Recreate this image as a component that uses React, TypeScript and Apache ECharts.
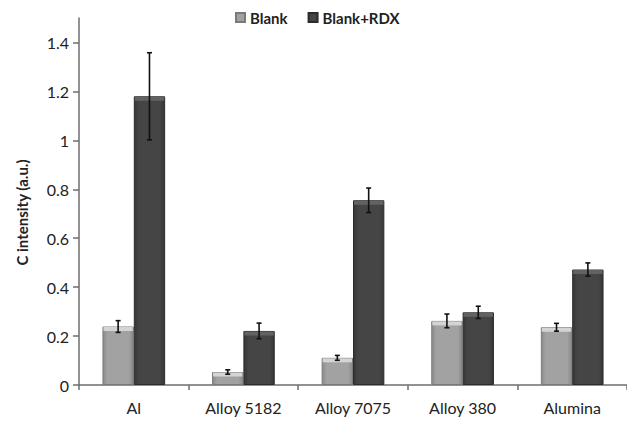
import React, { useEffect, useRef } from 'react';
import * as echarts from 'echarts';

const categories = ['Al', 'Alloy 5182', 'Alloy 7075', 'Alloy 380', 'Alumina'];
const blankValues = [0.239, 0.053, 0.111, 0.262, 0.236];
const blankErrors = [0.024, 0.009, 0.01, 0.028, 0.016];
const rdxValues = [1.18, 0.221, 0.755, 0.297, 0.472];
const rdxErrors = [0.178, 0.032, 0.05, 0.025, 0.027];
const yTicks = [0, 0.2, 0.4, 0.6, 0.8, 1, 1.2, 1.4];

const GAP = 0.428;
const FONT = 'Lato, "Open Sans", sans-serif';

const blankFill = new echarts.graphic.LinearGradient(0, 0, 1, 0, [
  { offset: 0, color: '#8a8a8a' },
  { offset: 0.15, color: '#a2a2a2' },
  { offset: 0.85, color: '#a2a2a2' },
  { offset: 1, color: '#8a8a8a' },
]);
const rdxFill = new echarts.graphic.LinearGradient(0, 0, 1, 0, [
  { offset: 0, color: '#363636' },
  { offset: 0.15, color: '#454545' },
  { offset: 0.85, color: '#454545' },
  { offset: 1, color: '#363636' },
]);

export default function App() {
  const ref = useRef<HTMLDivElement>(null);
  useEffect(() => {
    if (!ref.current) return;
    const chart = echarts.init(ref.current, null, { renderer: 'svg' });
    const errData: number[][] = [];
    categories.forEach((_, i) => {
      errData.push([i, blankValues[i], blankErrors[i], 0]);
      errData.push([i, rdxValues[i], rdxErrors[i], 1]);
    });
    chart.setOption({
      animation: false,
      backgroundColor: '#ffffff',
      legend: {
        data: ['Blank', 'Blank+RDX'],
        left: 230,
        top: 5,
        icon: 'rect',
        itemWidth: 9,
        itemHeight: 9,
        itemGap: 20,
        textStyle: { fontFamily: FONT, fontSize: 15, fontWeight: 'bold', color: '#222' },
      },
      grid: { left: 79, right: -6, top: 18, bottom: 37, containLabel: false },
      xAxis: {
        type: 'category',
        data: categories,
        axisLine: { show: true, lineStyle: { color: '#6e6e6e', width: 1.5 } },
        axisTick: { show: true, length: 5, lineStyle: { color: '#6e6e6e', width: 1.5 } },
        axisLabel: { fontFamily: FONT, fontSize: 16, color: '#222', margin: 14 },
        splitLine: { show: false },
      },
      yAxis: {
        type: 'value',
        min: 0,
        max: 1.5,
        name: 'C intensity (a.u.)',
        nameLocation: 'middle',
        nameGap: 50,
        nameRotate: 90,
        nameTextStyle: { fontFamily: FONT, fontSize: 15, fontWeight: 'bold', color: '#222', padding: [0, 0, 0, -22] },
        axisLine: { show: true, lineStyle: { color: '#6e6e6e', width: 1.5 } },
        axisTick: { show: true, length: 6, customValues: yTicks, lineStyle: { color: '#6e6e6e', width: 1.5 } },
        axisLabel: {
          fontFamily: FONT,
          fontSize: 16,
          color: '#222',
          margin: 10,
          customValues: yTicks,
          formatter: (v: number) => String(Math.round(v * 10) / 10),
        },
        splitLine: { show: false },
      },
      series: [
        {
          name: 'Blank',
          type: 'bar',
          data: blankValues,
          barCategoryGap: GAP * 100 + '%',
          barGap: '0%',
          itemStyle: { color: blankFill, borderColor: '#7a7a7a', borderWidth: 1 },
        },
        {
          name: 'Blank+RDX',
          type: 'bar',
          data: rdxValues,
          barCategoryGap: GAP * 100 + '%',
          barGap: '0%',
          itemStyle: { color: rdxFill, borderColor: '#2c2c2c', borderWidth: 1 },
        },
        {
          type: 'custom',
          name: 'err',
          data: errData,
          z: 5,
          renderItem: (params: any, api: any) => {
            const i = api.value(0);
            const v = api.value(1);
            const e = api.value(2);
            const s = api.value(3);
            const band = api.size([1, 0])[0];
            const bw = (band * (1 - GAP)) / 2;
            const cx = api.coord([i, 0])[0];
            const base = api.coord([i, 0])[1];
            const x = s === 0 ? cx - bw / 2 : cx + bw / 2;
            const top = api.coord([i, v])[1];
            const hi = api.coord([i, v + e])[1];
            const lo = api.coord([i, v - e])[1];
            const hh = Math.min(4, base - top - 1);
            const cap = 2.5;
            const ls = { stroke: '#111', lineWidth: 1.6 };
            return {
              type: 'group',
              children: [
                {
                  type: 'rect',
                  shape: { x: x - bw / 2 + 1, y: top + 0.5, width: bw - 2, height: hh },
                  style: { fill: s === 0 ? '#d4d4d4' : '#626262' },
                },
                { type: 'line', shape: { x1: x, y1: hi, x2: x, y2: lo }, style: ls },
                { type: 'line', shape: { x1: x - cap, y1: hi, x2: x + cap, y2: hi }, style: ls },
                { type: 'line', shape: { x1: x - cap, y1: lo, x2: x + cap, y2: lo }, style: ls },
              ],
            };
          },
        },
      ],
    });
    return () => chart.dispose();
  }, []);
  return <div ref={ref} style={{ width: 627, height: 422, position: 'absolute', left: 0, top: 0 }} />;
}
